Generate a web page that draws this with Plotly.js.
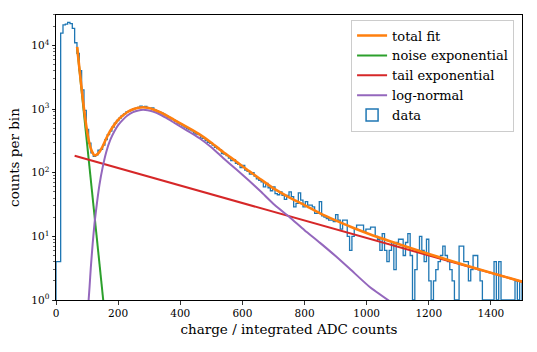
<!DOCTYPE html>
<html>
<head>
<meta charset="utf-8">
<script src="https://cdn.plot.ly/plotly-3.0.1.min.js"></script>
<style>html,body{margin:0;padding:0;background:#fff}</style>
</head>
<body>
<div id="plot" style="width:537px;height:352px"></div>
<script>
// histogram: 200 bins of 7.5 ADC counts from 0 to 1500
const binWidth = 7.5;
const counts = [
  4, 4, 15600, 21000, 21500, 23000, 22000, 18500, 11000, 7500,
  4000, 2000, 950, 480, 290, 205, 180, 190, 225, 232,
  270, 330, 395, 450, 520, 600, 660, 720, 790, 840,
  900, 930, 960, 1010, 1030, 1060, 1110, 1080, 1100, 1050,
  1030, 1040, 960, 930, 890, 860, 820, 790, 740, 700,
  680, 640, 600, 580, 545, 520, 490, 470, 455, 420,
  405, 395, 350, 345, 320, 300, 290, 270, 250, 240,
  230, 200, 195, 185, 170, 155, 160, 140, 135, 120,
  130, 110, 105, 95, 100, 88, 80, 76, 72, 60,
  68, 58, 52, 60, 47, 45, 50, 44, 38, 44,
  50, 42, 29, 33, 48, 37, 29, 35, 31, 31,
  29, 23, 23, 35, 21, 20, 19, 18, 18, 17,
  22, 18, 13, 18, 18, 10, 6, 10, 13, 15,
  15, 15, 12, 13, 13, 14, 14, 10, 9, 6,
  11, 6, 4, 6, 8, 3, 8, 9, 9, 5,
  8, 11, 5, 1, 3, 6, 10, 6, 4, 9,
  2, 1, 2, 3, 4, 5, 7, 5, 4, 3,
  2, 1, 1, 7, 7, 4, 4, 2, 3, 5,
  5, 3, 2, 1, 1, 1, 1, 1, 4, 1,
  4, 1, 1, 1, 1, 1, 1, 2, 1, 2
];

// fit components
const noiseX = [68, 152];
const noiseY = [9300, 1.0];

const tailX = [60, 1500];
const tailY = [184, 1.94];

const lognX = [105, 108, 112, 118, 124, 132, 140, 150, 162, 175, 188, 200, 215, 230, 248, 265, 280, 295, 312, 335, 355, 380, 409, 435, 462, 500, 538, 580, 620, 660, 704, 752, 800, 850, 900, 950, 1010, 1075];
const lognY = [1.0, 1.6, 3.2, 7.6, 16, 34, 65, 120, 214, 330, 447, 560, 676, 790, 891, 950, 977, 960, 912, 820, 724, 610, 501, 420, 347, 250, 170, 113, 76, 50, 31, 20, 12.5, 7.9, 4.9, 2.95, 1.6, 0.95];

const totalX = [68, 75, 82, 90, 97, 105, 112, 118, 124, 130, 140, 150, 162, 175, 188, 200, 215, 230, 248, 265, 280, 295, 312, 335, 355, 380, 409, 435, 462, 500, 538, 580, 620, 660, 704, 752, 800, 850, 900, 950, 1010, 1075, 1200, 1350, 1500];
const totalY = [9480, 4515, 2200, 1018, 562, 330, 240, 205, 187, 190, 212, 258, 347, 458, 569, 677, 788, 898, 992, 1045, 1069, 1047, 995, 895, 796, 676, 562, 477, 399, 296, 211, 150, 107, 78, 55, 40.6, 31, 23, 17.8, 14, 10.8, 8.4, 5.3, 3.15, 1.94];

const edges = counts.map((_, i) => i * binWidth);
const histX = [0].concat(edges, [1500]);
const histY = [0.01].concat(counts, [0.01]);

const serif = "DejaVu Serif";

const traces = [
  {
    x: histX, y: histY, mode: "lines",
    line: {color: "#1f77b4", width: 1.3, shape: "hv"},
    showlegend: false, hoverinfo: "skip"
  },
  {
    x: noiseX, y: noiseY, mode: "lines", name: "noise exponential",
    line: {color: "#2ca02c", width: 2}, legendrank: 2, legendgroup: "n"
  },
  {
    x: tailX, y: tailY, mode: "lines", name: "tail exponential",
    line: {color: "#d62728", width: 2}, legendrank: 3, legendgroup: "t"
  },
  {
    x: lognX, y: lognY, mode: "lines", name: "log-normal",
    line: {color: "#9467bd", width: 2, shape: "spline", smoothing: 0.5}, legendrank: 4, legendgroup: "l"
  },
  {
    x: totalX, y: totalY, mode: "lines", name: "total fit",
    line: {color: "#ff7f0e", width: 2.6, shape: "spline", smoothing: 0.5}, legendrank: 1, legendgroup: "f"
  },
  {
    type: "bar", x: [null], y: [null], name: "data",
    marker: {color: "rgba(255,255,255,0)", line: {color: "#1f77b4", width: 1.5}},
    legendrank: 5, legendgroup: "d"
  }
];

const layout = {
  width: 537,
  height: 352,
  margin: {l: 56, r: 15, t: 15, b: 52},
  paper_bgcolor: "white",
  plot_bgcolor: "white",
  font: {family: serif, size: 12, color: "black"},
  showlegend: true,
  legend: {
    x: 0.983, y: 0.984, xanchor: "right", yanchor: "top",
    bgcolor: "rgba(255,255,255,0.8)", bordercolor: "#cccccc", borderwidth: 1,
    font: {family: serif, size: 13, color: "black"},
    traceorder: "normal", tracegroupgap: 1.5
  },
  xaxis: {
    range: [0, 1500],
    showline: true, linecolor: "black", linewidth: 1, mirror: true,
    showgrid: false, zeroline: false,
    ticks: "outside", ticklen: 3.5, tickwidth: 0.8, tickcolor: "black",
    tickvals: [0, 200, 400, 600, 800, 1000, 1200, 1400],
    tickfont: {family: serif, size: 10.5},
    title: {text: "charge / integrated ADC counts", font: {family: serif, size: 13.5}, standoff: 6}
  },
  yaxis: {
    type: "log",
    range: [0, 4.477],
    showline: true, linecolor: "black", linewidth: 1, mirror: true,
    showgrid: false, zeroline: false,
    ticks: "outside", ticklen: 3.5, tickwidth: 0.8, tickcolor: "black",
    tickvals: [1, 10, 100, 1000, 10000],
    ticktext: ["10<sup>0</sup>", "10<sup>1</sup>", "10<sup>2</sup>", "10<sup>3</sup>", "10<sup>4</sup>"],
    tickfont: {family: serif, size: 10.5},
    minor: {ticks: "outside", ticklen: 2, tickwidth: 0.6, tickcolor: "black", dtick: "D1", showgrid: false},
    title: {text: "counts per bin", font: {family: serif, size: 13.5}, standoff: 8}
  }
};

Plotly.newPlot("plot", traces, layout, {displayModeBar: false, staticPlot: true});
</script>
</body>
</html>
